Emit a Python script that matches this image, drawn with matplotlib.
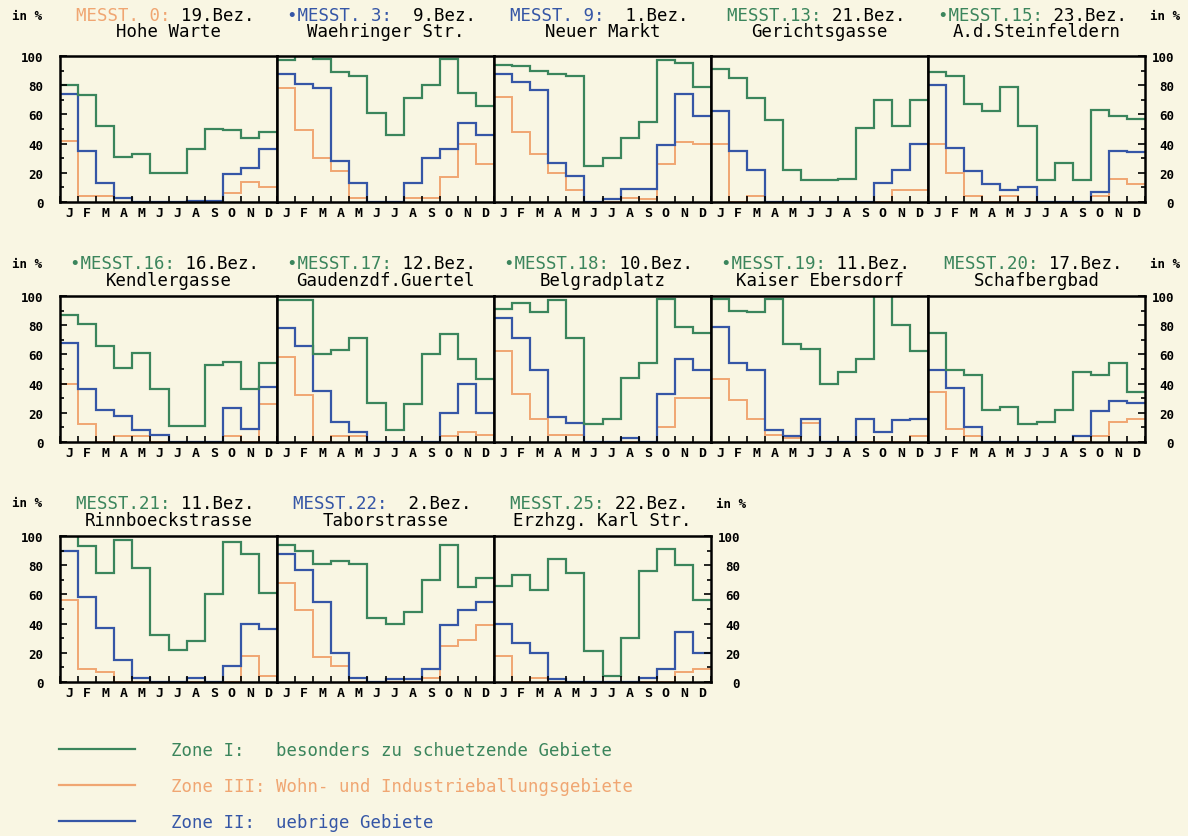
import numpy as np
import matplotlib
matplotlib.use('Agg')
import matplotlib.pyplot as plt
from matplotlib.lines import Line2D

months = ['J', 'F', 'M', 'A', 'M', 'J', 'J', 'A', 'S', 'O', 'N', 'D']

# title line 1: coloured station prefix, black district part
station = ['MESST. 0:', '\u2022MESST. 3:', 'MESST. 9:', 'MESST.13:', '\u2022MESST.15:',
           '\u2022MESST.16:', '\u2022MESST.17:', '\u2022MESST.18:', '\u2022MESST.19:', 'MESST.20:',
           'MESST.21:', 'MESST.22:', 'MESST.25:']
district = [' 19.Bez.', '  9.Bez.', '  1.Bez.', ' 21.Bez.', ' 23.Bez.',
            ' 16.Bez.', ' 12.Bez.', ' 10.Bez.', ' 11.Bez.', ' 17.Bez.',
            ' 11.Bez.', '  2.Bez.', ' 22.Bez.']
station_zone = ['III', 'II', 'II', 'I', 'I',
                'I', 'I', 'I', 'I', 'I',
                'I', 'II', 'I']
names = ['Hohe Warte', 'Waehringer Str.', 'Neuer Markt', 'Gerichtsgasse', 'A.d.Steinfeldern',
         'Kendlergasse', 'Gaudenzdf.Guertel', 'Belgradplatz', 'Kaiser Ebersdorf', 'Schafbergbad',
         'Rinnboeckstrasse', 'Taborstrasse', 'Erzhzg. Karl Str.']

# monthly values in % (Zone I, Zone II, Zone III)
zone1 = [
    [80, 73, 52, 31, 33, 20, 20, 36, 50, 49, 44, 48],
    [97, 100, 98, 89, 86, 61, 46, 71, 80, 98, 75, 66],
    [94, 93, 90, 88, 86, 25, 30, 44, 55, 97, 95, 79],
    [91, 85, 71, 56, 22, 15, 15, 16, 51, 70, 52, 70],
    [89, 86, 67, 62, 79, 52, 15, 27, 15, 63, 59, 57],
    [87, 81, 66, 51, 61, 36, 11, 11, 53, 55, 36, 54],
    [97, 97, 60, 63, 71, 27, 8, 26, 60, 74, 57, 43],
    [91, 95, 89, 97, 71, 12, 16, 44, 54, 98, 79, 75],
    [98, 90, 89, 98, 67, 64, 40, 48, 57, 100, 80, 62],
    [75, 49, 46, 22, 24, 12, 14, 22, 48, 46, 54, 34],
    [100, 93, 75, 97, 78, 32, 22, 28, 60, 96, 88, 61],
    [94, 90, 81, 83, 81, 44, 40, 48, 70, 94, 65, 71],
    [66, 73, 63, 84, 75, 21, 4, 30, 76, 91, 80, 56],
]
zone2 = [
    [74, 35, 13, 3, 0, 0, 0, 1, 1, 19, 23, 36],
    [88, 81, 78, 28, 13, 0, 0, 13, 30, 36, 54, 46],
    [88, 82, 77, 27, 18, 0, 2, 9, 9, 39, 74, 59],
    [62, 35, 22, 0, 0, 0, 0, 0, 0, 13, 22, 40],
    [80, 37, 21, 12, 8, 10, 0, 0, 0, 7, 35, 34],
    [68, 36, 22, 18, 8, 5, 0, 0, 0, 23, 9, 38],
    [78, 66, 35, 14, 7, 0, 0, 0, 0, 20, 40, 20],
    [85, 71, 49, 17, 13, 0, 0, 3, 0, 33, 57, 49],
    [79, 54, 49, 8, 4, 16, 0, 0, 16, 7, 15, 16],
    [49, 37, 10, 0, 0, 0, 0, 0, 4, 21, 28, 27],
    [90, 58, 37, 15, 3, 0, 0, 3, 0, 11, 40, 36],
    [88, 77, 55, 20, 3, 0, 2, 2, 9, 39, 49, 55],
    [40, 27, 20, 2, 0, 0, 0, 0, 3, 9, 34, 20],
]
zone3 = [
    [42, 4, 4, 3, 0, 0, 0, 0, 0, 6, 14, 10],
    [78, 49, 30, 21, 3, 0, 0, 3, 3, 17, 40, 26],
    [72, 48, 33, 20, 8, 0, 0, 3, 2, 26, 41, 40],
    [40, 0, 4, 0, 0, 0, 0, 0, 0, 0, 8, 8],
    [40, 20, 4, 0, 4, 0, 0, 0, 0, 4, 16, 12],
    [40, 12, 0, 4, 4, 0, 0, 0, 0, 4, 0, 26],
    [58, 32, 0, 4, 4, 0, 0, 0, 0, 4, 7, 5],
    [62, 33, 16, 5, 5, 0, 0, 0, 0, 10, 30, 30],
    [43, 29, 16, 5, 3, 13, 0, 0, 0, 0, 0, 4],
    [34, 9, 4, 0, 0, 0, 0, 0, 0, 4, 14, 16],
    [56, 9, 7, 0, 0, 0, 0, 0, 0, 0, 18, 4],
    [68, 49, 17, 11, 0, 0, 0, 0, 3, 25, 29, 39],
    [18, 0, 3, 0, 0, 0, 0, 0, 0, 0, 7, 9],
]

legend_labels = ['Zone I:   besonders zu schuetzende Gebiete',
                 'Zone III: Wohn- und Industrieballungsgebiete',
                 'Zone II:  uebrige Gebiete']

bg = '#F9F6E3'
colors = {'I': '#3B855C', 'II': '#3556A6', 'III': '#F0A672'}
mono = 'DejaVu Sans Mono'

W, H = 1188, 837
fig = plt.figure(figsize=(W / 100, H / 100), dpi=100, facecolor=bg)

# panel geometry in pixels (from the reference)
col_left = [60, 277, 494, 711, 928]
panel_w = 217
row_top = [57, 297, 537]
panel_h = 146
title1_y = [16, 264, 504]
title2_y = [32, 281, 521]
per_row = [5, 5, 3]

edges = np.arange(13)
k = 0
for r in range(3):
    n = per_row[r]
    for c in range(n):
        x0 = col_left[c]
        ax = fig.add_axes([x0 / W, 1 - (row_top[r] + panel_h) / H, panel_w / W, panel_h / H])
        ax.set_facecolor(bg)
        ax.stairs(zone3[k], edges, baseline=None, color=colors['III'], lw=1.4)
        ax.stairs(zone2[k], edges, baseline=None, color=colors['II'], lw=1.6)
        ax.stairs(zone1[k], edges, baseline=None, color=colors['I'], lw=1.6)
        ax.set_xlim(0, 12)
        ax.set_ylim(0, 100)
        for s in ax.spines.values():
            s.set_linewidth(1.8)
            s.set_color('black')

        # months: boundary ticks, labels centred in each month
        ax.set_xticks(edges)
        ax.set_xticklabels([])
        ax.set_xticks(edges[:-1] + 0.5, minor=True)
        ax.set_xticklabels(months, minor=True, family=mono, fontsize=9.5, fontweight='bold')
        ax.tick_params(axis='x', which='major', direction='in', length=4, width=1.2)
        ax.tick_params(axis='x', which='minor', length=0, pad=3)

        ax.set_yticks(np.arange(0, 101, 20))
        ax.set_yticks(np.arange(10, 100, 20), minor=True)
        left = c == 0
        right = c == n - 1
        ax.tick_params(axis='y', which='both', direction='in', width=1.2,
                       left=left, right=right, labelleft=left, labelright=right)
        ax.tick_params(axis='y', which='major', length=5)
        ax.tick_params(axis='y', which='minor', length=3)
        if left:
            ax.tick_params(axis='y', pad=12)
        if right:
            ax.tick_params(axis='y', pad=21)
            for t in ax.get_yticklabels():
                t.set_horizontalalignment('right')
        for t in ax.get_yticklabels():
            t.set_family(mono)
            t.set_fontsize(9)
            t.set_fontweight('bold')

        # two-coloured first title line, monospace so both parts line up
        full = station[k] + district[k]
        cw = 12.5 / 72 * 100 * 0.602
        lx = x0 + panel_w / 2 - 4 - len(full) * cw / 2
        ty = 1 - title1_y[r] / H
        fig.text(lx / W, ty, station[k] + ' ' * len(district[k]), color=colors[station_zone[k]],
                 family=mono, fontsize=12.5, ha='left', va='center')
        fig.text(lx / W, ty, ' ' * len(station[k]) + district[k], color='black',
                 family=mono, fontsize=12.5, ha='left', va='center')
        fig.text((x0 + panel_w / 2) / W, 1 - title2_y[r] / H, names[k], color='black',
                 family=mono, fontsize=12.5, ha='center', va='center')
        k += 1

    # "in %" axis captions
    fig.text(27 / W, 1 - title1_y[r] / H, 'in %', family=mono, fontsize=9,
             fontweight='bold', ha='center', va='center')
    rx = col_left[n - 1] + panel_w + 20
    fig.text(rx / W, 1 - (title1_y[r] + 1) / H, 'in %', family=mono, fontsize=9,
             fontweight='bold', ha='center', va='center')

# legend
handles = [Line2D([], [], color=colors['I'], lw=1.6),
           Line2D([], [], color=colors['III'], lw=1.6),
           Line2D([], [], color=colors['II'], lw=1.6)]
leg = fig.legend(handles, legend_labels, loc='upper left', bbox_to_anchor=(43 / W, 1 - 726 / H),
                 frameon=False, prop={'family': mono, 'size': 12.5},
                 handlelength=4.4, handletextpad=2.1, labelspacing=1.05,
                 labelcolor=[colors['I'], colors['III'], colors['II']])

fig.savefig('out.png', dpi=100, facecolor=bg)
